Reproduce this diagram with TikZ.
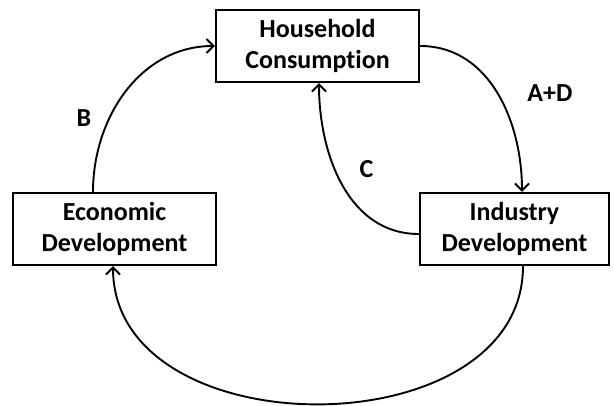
\documentclass[tikz,border=0pt]{standalone}
\usepackage{fontspec}
\setmainfont{Carlito}[Ligatures=NoCommon]
\usetikzlibrary{arrows.meta}

\tikzset{
    box/.style={draw, line width=2.4pt, minimum height=72pt, align=center,
        inner sep=0pt, font=\fontsize{26}{31}\selectfont\bfseries},
    link/.style={line width=1.9pt, -{Straight Barb[length=7pt,width=14pt]}},
    tag/.style={font=\fontsize{26}{28}\selectfont\bfseries}
}

\begin{document}
\begin{tikzpicture}[x=1pt,y=1pt]
        \useasboundingbox (0,0) rectangle (614,405);
        %% boxes
        \node[box, minimum width=203pt] (house) at (317.5,359) {Household\\Consumption};
        \node[box, minimum width=203pt] (econ) at (114.5,176) {Economic\\Development};
        \node[box, minimum width=189pt] (ind) at (514.5,176) {Industry\\Development};
        %% loop of arrows
        \draw[link] ([xshift=-21.5pt]econ.north) to[out=90,in=180] node[tag, pos=0.35, left=14pt] {B} (house.west);
        \draw[link] (house.east) to[out=0,in=90] node[tag, pos=0.5, right=26pt] {A+D} ([xshift=7.5pt]ind.north);
        \draw[link] ([yshift=-5pt]ind.west) to[out=180,in=-90] node[tag, pos=0.5, anchor=south west, xshift=13pt, yshift=3pt] {C} ([xshift=1.5pt]house.south);
        \draw[link] ([xshift=8.5pt]ind.south) to[out=-90,in=-90,looseness=1.15] ([xshift=-1.5pt]econ.south);
    \end{tikzpicture}
\end{document}
